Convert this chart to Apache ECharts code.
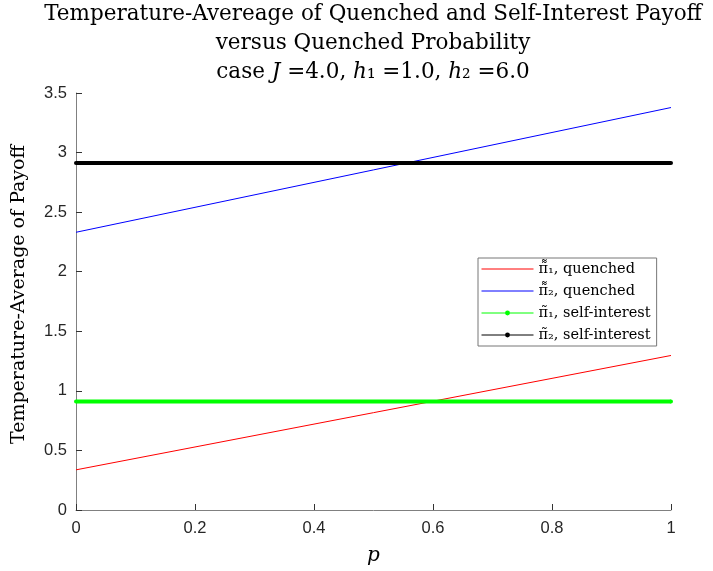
<!DOCTYPE html>
<html>
<head>
<meta charset="utf-8">
<script src="https://cdn.jsdelivr.net/npm/echarts@6/dist/echarts.min.js"></script>
<style>
  html, body { margin: 0; padding: 0; background: #fff; }
  #chart { width: 713px; height: 571px; }
</style>
</head>
<body>
<div id="chart"></div>
<script>
  // data
  const pValues = [0, 1]
  const quenched1 = [0.337, 1.297]
  const quenched2 = [2.331, 3.378]
  const selfInterest1 = [0.911, 0.911]
  const selfInterest2 = [2.913, 2.913]
  const seriesNames = [
    'π\u0303\u0303\u2081, quenched',
    'π\u0303\u0303\u2082, quenched',
    'π\u0303\u2081, self-interest',
    'π\u0303\u2082, self-interest'
  ]
  const xTicks = ['0', '0.2', '0.4', '0.6', '0.8', '1']

  const serif = '"DejaVu Serif", "Liberation Serif", serif'
  const sans = '"Liberation Sans", Arial, sans-serif'

  const toPoints = (ys) => pValues.map((p, i) => [p, ys[i]])

  const myChart = echarts.init(document.getElementById('chart'))

  const option = {
    animation: false,
    backgroundColor: '#fff',
    title: {
      text: 'Temperature-Avereage of Quenched and Self-Interest Payoff\nversus Quenched Probability\n{n|case }{i|J}{n| =4.0, }{i|h}{n|\u2081 =1.0, }{i|h}{n|\u2082 =6.0}',
      left: 368,
      textAlign: 'center',
      top: -5,
      textStyle: {
        fontFamily: serif,
        fontWeight: 'normal',
        fontSize: 21.5,
        lineHeight: 29,
        color: '#000',
        rich: {
          n: { fontFamily: serif, fontSize: 21.5, lineHeight: 29, color: '#000' },
          i: { fontFamily: serif, fontSize: 21.5, lineHeight: 29, fontStyle: 'italic', color: '#000' }
        }
      }
    },
    legend: {
      orient: 'vertical',
      left: 478,
      top: 258,
      padding: [3, 6, 3, 3],
      backgroundColor: '#fff',
      borderColor: '#777',
      borderWidth: 1,
      itemWidth: 52,
      itemHeight: 6,
      itemGap: 6,
      textStyle: { fontFamily: serif, fontSize: 14.5, color: '#000', lineHeight: 16 },
      data: seriesNames.map((name, i) => ({
        name: name,
        lineStyle: { width: 1 },
        // plain line for the quenched entries, line with a dot for the others
        itemStyle: i < 2 ? { opacity: 0 } : {}
      }))
    },
    grid: {
      left: 76,
      right: 42,
      top: 93,
      bottom: 59,
      containLabel: false
    },
    xAxis: {
      type: 'value',
      min: 0,
      max: 1,
      interval: 0.2,
      name: 'p',
      nameLocation: 'middle',
      nameGap: 36,
      nameTextStyle: { fontFamily: serif, fontStyle: 'italic', fontSize: 20, color: '#000' },
      axisLine: { lineStyle: { color: '#808080', width: 1 } },
      axisTick: { inside: true, length: 6, lineStyle: { color: '#333' } },
      axisLabel: {
        fontFamily: sans,
        fontSize: 16.5,
        color: '#262626',
        margin: 10,
        formatter: (v) => xTicks[Math.round(v / 0.2)]
      },
      splitLine: { show: false }
    },
    yAxis: {
      type: 'value',
      min: 0,
      max: 3.5,
      interval: 0.5,
      name: 'Temperature-Average of Payoff',
      nameLocation: 'middle',
      nameGap: 47,
      nameTextStyle: { fontFamily: serif, fontSize: 19, color: '#000', padding: [0, 0, 0, 14] },
      axisLine: { show: true, lineStyle: { color: '#808080', width: 1 } },
      axisTick: { show: true, inside: true, length: 6, lineStyle: { color: '#333' } },
      axisLabel: { fontFamily: sans, fontSize: 16.5, color: '#262626', margin: 9 },
      splitLine: { show: false }
    },
    series: [
      {
        name: seriesNames[0],
        type: 'line',
        data: toPoints(quenched1),
        symbol: 'none',
        color: '#ff0000',
        lineStyle: { width: 1 }
      },
      {
        name: seriesNames[1],
        type: 'line',
        data: toPoints(quenched2),
        symbol: 'none',
        color: '#0000ff',
        lineStyle: { width: 1 }
      },
      {
        name: seriesNames[2],
        type: 'line',
        data: toPoints(selfInterest1),
        symbol: 'circle',
        symbolSize: 4,
        color: '#00ff00',
        lineStyle: { width: 4 }
      },
      {
        name: seriesNames[3],
        type: 'line',
        data: toPoints(selfInterest2),
        symbol: 'circle',
        symbolSize: 4,
        color: '#000000',
        lineStyle: { width: 4 }
      }
    ]
  }

  myChart.setOption(option)
</script>
</body>
</html>
